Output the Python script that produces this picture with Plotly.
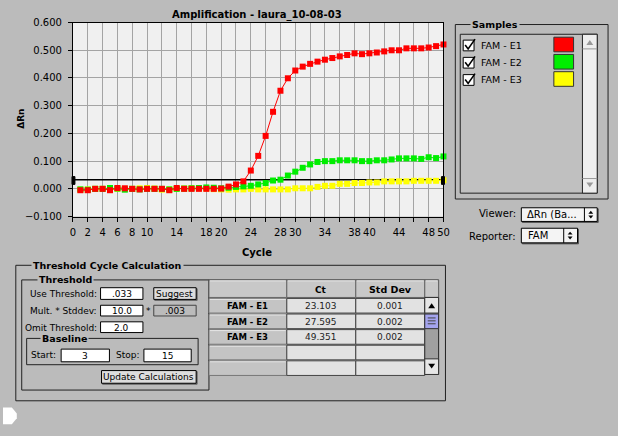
import plotly.graph_objects as go

# ---------------- data ----------------
cycles = list(range(1, 51))
fam_e1 = [-0.005, -0.005, 0.000, 0.000, -0.005, 0.003, 0.002, 0.000, -0.002, 0.000,
          0.000, 0.000, -0.005, 0.003, 0.000, 0.000, 0.000, 0.000, 0.000, 0.001,
          0.008, 0.016, 0.027, 0.066, 0.119, 0.191, 0.278, 0.354, 0.399, 0.427,
          0.441, 0.451, 0.459, 0.466, 0.472, 0.478, 0.483, 0.489, 0.486, 0.489,
          0.492, 0.496, 0.500, 0.500, 0.507, 0.507, 0.507, 0.510, 0.515, 0.521]
fam_e2 = [-0.002, -0.003, 0.000, 0.000, 0.003, 0.001, -0.003, 0.000, -0.002, 0.000,
          0.000, 0.000, -0.002, 0.000, 0.001, 0.002, 0.003, 0.005, 0.004, 0.002,
          0.004, 0.007, 0.009, 0.011, 0.016, 0.021, 0.030, 0.033, 0.048, 0.062,
          0.076, 0.088, 0.097, 0.100, 0.100, 0.103, 0.103, 0.103, 0.100, 0.100,
          0.103, 0.103, 0.106, 0.110, 0.110, 0.110, 0.108, 0.114, 0.111, 0.117]
fam_e3 = [-0.003, -0.002, 0.000, 0.000, -0.001, 0.000, 0.000, 0.000, 0.002, 0.003,
          0.001, -0.003, -0.002, 0.000, 0.001, 0.002, 0.002, 0.001, -0.001, -0.002,
          -0.003, -0.002, -0.002, 0.000, -0.002, -0.002, -0.002, -0.002, -0.002, 0.002,
          0.002, 0.002, 0.007, 0.011, 0.011, 0.018, 0.018, 0.021, 0.021, 0.023,
          0.023, 0.027, 0.027, 0.027, 0.027, 0.029, 0.029, 0.029, 0.029, 0.031]
sample_names = ["FAM - E1", "FAM - E2", "FAM - E3"]
sample_colors = ["#FF0000", "#00EE00", "#FFFF00"]
ct_values = ["23.103", "27.595", "49.351"]
std_devs = ["0.001", "0.002", "0.002"]
threshold = 0.033
x_tickvals = list(range(0, 51, 2))
x_labelled = [0, 2, 4, 6, 8, 10, 14, 18, 20, 24, 28, 30, 34, 38, 40, 44, 48, 50]
y_tickvals = [-0.1, 0.0, 0.1, 0.2, 0.3, 0.4, 0.5, 0.6]

# ---------------- layout helpers ----------------
W, H = 618, 436
BG = "#BBBBBB"
FONT = "DejaVu Sans"
def X(x): return x / W
def Y(y): return 1 - y / H

shapes = []
annos = []

def rect(x0, y0, x1, y1, fill=None, line="#000", lw=1):
    shapes.append(dict(type="rect", xref="paper", yref="paper",
                       x0=X(x0), x1=X(x1), y0=Y(y1), y1=Y(y0),
                       fillcolor=fill or "rgba(0,0,0,0)",
                       line=dict(color=line, width=lw), layer="above"))

def line(x0, y0, x1, y1, color="#000", lw=1):
    shapes.append(dict(type="line", xref="paper", yref="paper",
                       x0=X(x0), x1=X(x1), y0=Y(y0), y1=Y(y1),
                       line=dict(color=color, width=lw), layer="above"))

def path(pts, fill="#000", lcolor=None, lw=0):
    d = "M " + " L ".join(f"{X(a):.5f},{Y(b):.5f}" for a, b in pts) + " Z"
    shapes.append(dict(type="path", xref="paper", yref="paper", path=d,
                       fillcolor=fill, line=dict(color=lcolor or fill, width=lw),
                       layer="above"))

def text(x, y, s, size=9, bold=False, anchor="left", color="#000", bg=None):
    if bold:
        s = f"<b>{s}</b>"
    a = dict(x=X(x), y=Y(y), xref="paper", yref="paper", text=s,
             showarrow=False, xanchor=anchor, yanchor="middle",
             font=dict(family=FONT, size=size, color=color))
    if bg:
        a["bgcolor"] = bg
        a["borderpad"] = 1
    annos.append(a)

def groupbox(x0, y0, x1, y1, title, tx, size=9.5):
    rect(x0, y0, x1, y1, line="#222", lw=1)
    text(tx, y0, title, size=size, bold=True, bg=BG)

def field(x0, y0, x1, y1, s, fill="#FFFFFF", border="#000"):
    rect(x0, y0, x1, y1, fill=fill, line=border)
    text((x0 + x1) / 2, (y0 + y1) / 2 + 0.5, s, size=9, anchor="center")

def button(x0, y0, x1, y1, s):
    rect(x0 + 1, y0 + 1, x1 + 1, y1 + 1, fill="#666", line="#666")
    rect(x0, y0, x1, y1, fill="#DDDDDD", line="#000")
    text((x0 + x1) / 2, (y0 + y1) / 2 + 0.5, s, size=9, anchor="center")

# ---------------- figure / plot ----------------
fig = go.Figure()
for name, vals, col in [(sample_names[2], fam_e3, sample_colors[2]),
                        (sample_names[1], fam_e2, sample_colors[1]),
                        (sample_names[0], fam_e1, sample_colors[0])]:
    fig.add_trace(go.Scatter(x=cycles, y=vals, mode="lines+markers", name=name,
                             line=dict(color=col, width=1),
                             marker=dict(symbol="square", size=6, color=col,
                                         line=dict(width=0)),
                             showlegend=False, cliponaxis=False, hoverinfo="skip"))

# threshold line and handles
shapes.append(dict(type="line", xref="x", yref="y", x0=0, x1=50, y0=threshold,
                   y1=threshold, line=dict(color="#000", width=1.5), layer="between"))
rect(70, 175, 73, 183, fill="#000", line="#000")
rect(445, 175, 448, 183, fill="#000", line="#000")

fig.update_xaxes(domain=[X(71), X(447)], range=[0, 50], tickvals=x_tickvals,
                 ticktext=[str(v) if v in x_labelled else "" for v in x_tickvals],
                 ticks="outside", ticklen=4, tickcolor="#000",
                 showgrid=True, gridcolor="#A4A4A4", gridwidth=1, zeroline=False,
                 showline=True, linecolor="#000", linewidth=1, mirror=True,
                 tickfont=dict(family=FONT, size=10, color="#000"),
                 ticklabelstandoff=2, fixedrange=True)
fig.update_yaxes(domain=[Y(216), Y(17)], range=[-0.1, 0.6], tickvals=y_tickvals,
                 tickformat=".3f", ticks="outside", ticklen=4, tickcolor="#000",
                 showgrid=True, gridcolor="#A4A4A4", gridwidth=1, zeroline=False,
                 showline=True, linecolor="#000", linewidth=1, mirror=True,
                 tickfont=dict(family=FONT, size=10, color="#000"),
                 ticklabelstandoff=4, fixedrange=True)

text(258, 9, "Amplification - laura_10-08-03", size=10, bold=True, anchor="center")
annos.append(dict(x=X(18), y=Y(116), xref="paper", yref="paper", text="<b>ΔRn</b>",
                  showarrow=False, textangle=-90, xanchor="center", yanchor="middle",
                  font=dict(family=FONT, size=9, color="#000")))
text(258, 253, "Cycle", size=10, bold=True, anchor="center")

# ---------------- Samples panel ----------------
groupbox(459, 19, 614, 198, "Samples", 474)
rect(464, 29, 603, 192, fill="#C0C0C0", line="#222")
rect(588, 29, 603, 192, fill="#EEEEEE", line="#222")
line(588, 44, 603, 44, color="#999")
line(588, 177, 603, 177, color="#999")
path([(592, 40), (599, 40), (595.5, 35)], fill="#999")
path([(592, 181), (599, 181), (595.5, 186)], fill="#999")
for i, (nm, col) in enumerate(zip(sample_names, sample_colors)):
    cy = 40 + i * 17.7
    rect(467, cy - 5, 478, cy + 6, fill="#FFFFFF", line="#000")
    shapes.append(dict(type="path", xref="paper", yref="paper",
                       path=f"M {X(469):.5f},{Y(cy):.5f} L {X(472):.5f},{Y(cy + 4):.5f} L {X(479):.5f},{Y(cy - 6):.5f}",
                       line=dict(color="#000", width=1.6), layer="above"))
    text(483, cy + 0.5, nm, size=9.5)
    rect(559, cy - 8, 579, cy + 7, fill=col, line="#333")

# Viewer / Reporter
text(523, 213, "Viewer:", size=10, anchor="right")
rect(527, 208, 604, 222, fill="#555", line="#555")
rect(526, 207, 603, 221, fill="#F4F4F4", line="#000")
line(590, 207, 590, 221, color="#000")
text(530, 214, "ΔRn (Ba...", size=10)
path([(594, 213), (599, 213), (596.5, 210)], fill="#000")
path([(594, 215), (599, 215), (596.5, 218)], fill="#000")

text(523, 236, "Reporter:", size=10, anchor="right")
rect(527, 229, 584, 244, fill="#555", line="#555")
rect(526, 228, 583, 243, fill="#F4F4F4", line="#000")
line(569, 228, 569, 243, color="#000")
text(531, 235.5, "FAM", size=10)
path([(573, 234.5), (578, 234.5), (575.5, 231.5)], fill="#000")
path([(573, 236.5), (578, 236.5), (575.5, 239.5)], fill="#000")

# ---------------- Threshold Cycle Calculation ----------------
groupbox(13, 266, 449, 405, "Threshold Cycle Calculation", 28)
groupbox(19, 281, 209, 394, "Threshold", 34)
text(97, 295, "Use Threshold:", anchor="right")
field(99, 289, 142, 301, f".{int(round(threshold*1000)):03d}")
button(153, 289, 196, 301, "Suggest")
text(97, 312.5, "Mult. * Stddev:", anchor="right")
field(99, 307, 142, 318, "10.0")
text(148, 313, "*", anchor="center")
field(153, 307, 196, 318, ".003", fill="#BBBBBB", border="#444")
text(97, 330, "Omit Threshold:", anchor="right")
field(99, 324, 142, 335, "2.0")
groupbox(24, 341, 198, 368, "Baseline", 38)
text(26, 358.5, "Start:")
field(59, 352, 108, 365, "3")
text(141, 358.5, "Stop:", anchor="right")
field(143, 352, 191, 365, "15")
button(100, 374, 196, 387, "Update Calculations")

# table
tx0, tx1, tx2, tx3, tx4 = 209, 288, 358, 428, 442
ty_head0, ty_head1 = 281, 299
rect(tx0, ty_head0, tx4, 378, fill="#C8C8C8", line="#333")
for a, b in [(tx0, tx1), (tx1, tx2), (tx2, tx3), (tx3, tx4)]:
    rect(a, ty_head0, b, ty_head1, fill="#C8C8C8", line="#666")
    line(a + 1, ty_head0 + 1, b - 1, ty_head0 + 1, color="#E6E6E6")
text((tx1 + tx2) / 2, 291, "Ct", size=9, bold=True, anchor="center")
text((tx2 + tx3) / 2, 291, "Std Dev", size=9.5, bold=True, anchor="center")
for r in range(5):
    y0 = ty_head1 + 1 + r * 16
    y1 = y0 + 15
    rect(tx0, y0, tx1, y1, fill="#C4C4C4", line="#777")
    line(tx0 + 1, y0 + 1, tx1 - 1, y0 + 1, color="#E6E6E6")
    rect(tx1, y0, tx2, y1, fill="#E2E2E2", line="#444")
    rect(tx2, y0, tx3, y1, fill="#E2E2E2", line="#444")
    if r < 3:
        text((tx0 + tx1) / 2, y0 + 8, sample_names[r], size=8.5, bold=True, anchor="center")
        text((tx1 + tx2) / 2, y0 + 8, ct_values[r], size=9, anchor="center", color="#222")
        text((tx2 + tx3) / 2, y0 + 8, std_devs[r], size=9, anchor="center", color="#222")
# table scrollbar
rect(tx3, 299, tx4, 378, fill="#A0A0A0", line="#333")
rect(tx3, 299, tx4, 315, fill="#E6E6E6", line="#333")
path([(431.5, 310), (438.5, 310), (435, 305)], fill="#000")
rect(tx3, 316, tx4, 331, fill="#A4A4EE", line="#333")
for yy in (320, 323, 326):
    line(431, yy, 439, yy, color="#444")
rect(tx3, 362, tx4, 378, fill="#E6E6E6", line="#333")
path([(431.5, 367), (438.5, 367), (435, 372)], fill="#000")

# white pointer at bottom-left
path([(0, 412), (9, 412), (14, 418), (14, 423), (9, 429), (0, 429)], fill="#FFFFFF")

fig.update_layout(width=W, height=H, margin=dict(l=0, r=0, t=0, b=0),
                  paper_bgcolor=BG, plot_bgcolor="#F0F0F0",
                  shapes=shapes, annotations=annos, showlegend=False,
                  hovermode=False,
                  font=dict(family=FONT, size=10, color="#000"))
fig.write_html("out.html", config={"displayModeBar": False, "staticPlot": True},
               post_script="document.body.style.margin='0';document.body.style.overflow='hidden';document.body.style.background='#BBBBBB';")
